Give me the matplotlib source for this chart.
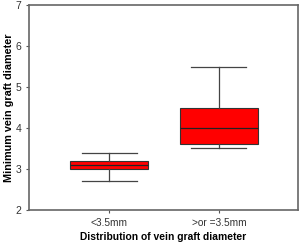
import matplotlib
matplotlib.use("Agg")
import matplotlib.pyplot as plt

categories = ["<3.5mm", ">or =3.5mm"]
# (lower whisker, q1, median, q3, upper whisker)
whislo = [2.7, 3.5]
q1 = [3.0, 3.6]
med = [3.1, 4.0]
q3 = [3.2, 4.5]
whishi = [3.4, 5.5]
yticks = [2, 3, 4, 5, 6, 7]

plt.rcParams['font.family'] = ['Liberation Sans', 'DejaVu Sans']

fig = plt.figure(figsize=(3.0, 2.43), dpi=100)
ax = fig.add_axes([0.097, 0.136, 0.896, 0.843])

stats = []
for i, c in enumerate(categories):
    stats.append(dict(label=c, whislo=whislo[i], q1=q1[i], med=med[i],
                      q3=q3[i], whishi=whishi[i], fliers=[]))

ax.bxp(stats, positions=[1, 2], widths=0.71, patch_artist=True,
       showfliers=False,
       boxprops=dict(facecolor="#ff0000", edgecolor="#333333", linewidth=0.8),
       medianprops=dict(color="#222222", linewidth=0.9),
       whiskerprops=dict(color="#444444", linewidth=0.9),
       capprops=dict(color="#444444", linewidth=0.9),
       capwidths=0.5)

ax.set_xlim(0.27, 2.72)
ax.set_ylim(2, 7)
ax.set_yticks(yticks)
ax.set_yticklabels([str(t) for t in yticks], fontsize=7.5, color="#333333")
ax.set_xticks([1, 2])
ax.set_xticklabels(categories, fontsize=7.3, color="#333333")
ax.tick_params(direction="out", length=2.5, width=0.8, colors="#555555",
               labelcolor="#333333", pad=3)
for s in ax.spines.values():
    s.set_color("#666666")
    s.set_linewidth(1.2)

ax.set_ylabel("Minimum vein graft diameter", fontsize=7.8, fontweight="bold")
ax.yaxis.set_label_coords(-0.058, 0.5)
ax.set_xlabel("Distribution of vein graft diameter", fontsize=7.4,
              fontweight="bold", labelpad=3.5)

fig.savefig("out.png", dpi=100)
